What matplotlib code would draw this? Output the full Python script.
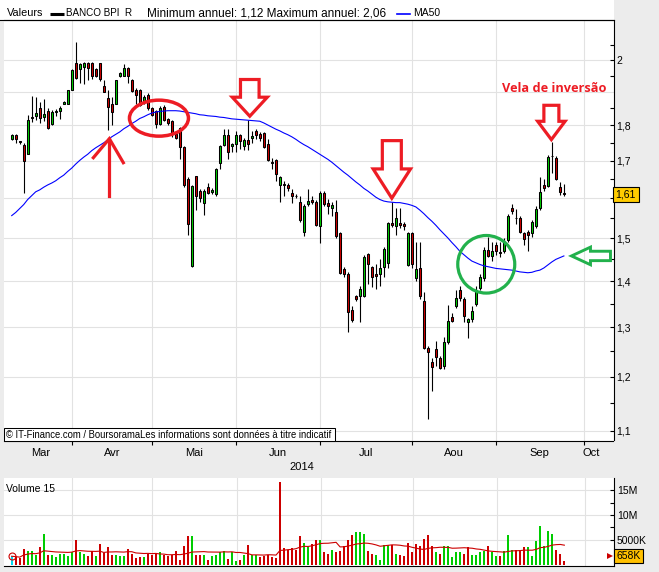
import numpy as np
import pandas as pd
import matplotlib
matplotlib.use("Agg")
import matplotlib.pyplot as plt
import matplotlib.ticker as mticker
import matplotlib.transforms as mtransforms
from matplotlib.patches import Polygon, Ellipse, Rectangle
from matplotlib.lines import Line2D

# ---------------------------------------------------------------------------
# BANCO BPI daily quotes, 11 Mar 2014 - 24 Sep 2014 (one value per session)
# ---------------------------------------------------------------------------
opens = [
    1.760, 1.773, 1.754, 1.743, 1.720, 1.825, 1.826, 1.851, 1.825, 1.843,
    1.804, 1.840, 1.843, 1.864, 1.864, 1.906, 1.991, 1.971, 1.977, 1.991,
    1.990, 1.971, 1.989, 1.918, 1.880, 1.864, 1.864, 1.949, 1.950, 1.973,
    1.937, 1.905, 1.906, 1.868, 1.891, 1.851, 1.841, 1.804, 1.854, 1.819,
    1.812, 1.774, 1.793, 1.739, 1.651, 1.435, 1.658, 1.620, 1.589, 1.629,
    1.617, 1.610, 1.693, 1.744, 1.772, 1.742, 1.746, 1.771, 1.740, 1.758,
    1.764, 1.784, 1.774, 1.777, 1.748, 1.697, 1.701, 1.635, 1.638, 1.636,
    1.614, 1.607, 1.591, 1.516, 1.586, 1.596, 1.590, 1.529, 1.614, 1.588,
    1.574, 1.565, 1.512, 1.428, 1.416, 1.336, 1.366, 1.366, 1.367, 1.463,
    1.432, 1.416, 1.417, 1.432, 1.442, 1.538, 1.530, 1.538, 1.535, 1.436,
    1.512, 1.408, 1.430, 1.356, 1.257, 1.228, 1.255, 1.237, 1.220, 1.268,
    1.322, 1.344, 1.381, 1.361, 1.311, 1.316, 1.349, 1.385, 1.406, 1.473,
    1.459, 1.484, 1.467, 1.469, 1.495, 1.574, 1.551, 1.551, 1.512, 1.516,
    1.512, 1.529, 1.574, 1.634, 1.632, 1.712, 1.708, 1.630, 1.614,
]
highs = [
    1.776, 1.776, 1.756, 1.750, 1.831, 1.887, 1.885, 1.868, 1.878, 1.850,
    1.845, 1.848, 1.856, 1.872, 1.906, 1.970, 2.060, 1.990, 1.995, 1.995,
    1.995, 1.975, 1.992, 1.937, 1.905, 1.885, 1.938, 1.963, 1.986, 1.978,
    1.940, 1.913, 1.910, 1.890, 1.895, 1.855, 1.845, 1.857, 1.860, 1.822,
    1.815, 1.780, 1.795, 1.742, 1.655, 1.635, 1.660, 1.625, 1.625, 1.640,
    1.626, 1.680, 1.745, 1.788, 1.788, 1.750, 1.785, 1.775, 1.765, 1.815,
    1.784, 1.790, 1.780, 1.782, 1.762, 1.708, 1.705, 1.660, 1.646, 1.640,
    1.625, 1.612, 1.607, 1.585, 1.625, 1.605, 1.595, 1.620, 1.620, 1.599,
    1.590, 1.596, 1.515, 1.432, 1.420, 1.345, 1.370, 1.390, 1.460, 1.465,
    1.435, 1.440, 1.450, 1.480, 1.540, 1.590, 1.574, 1.574, 1.540, 1.515,
    1.515, 1.490, 1.490, 1.375, 1.260, 1.236, 1.272, 1.240, 1.280, 1.348,
    1.330, 1.380, 1.390, 1.365, 1.320, 1.345, 1.390, 1.415, 1.480, 1.504,
    1.490, 1.490, 1.490, 1.500, 1.560, 1.586, 1.572, 1.556, 1.515, 1.520,
    1.545, 1.580, 1.655, 1.651, 1.715, 1.752, 1.712, 1.642, 1.638,
]
lows = [
    1.757, 1.750, 1.746, 1.615, 1.718, 1.810, 1.815, 1.807, 1.812, 1.790,
    1.800, 1.826, 1.818, 1.862, 1.862, 1.905, 1.940, 1.927, 1.924, 1.937,
    1.940, 1.945, 1.932, 1.900, 1.786, 1.802, 1.862, 1.945, 1.948, 1.927,
    1.900, 1.864, 1.858, 1.862, 1.845, 1.828, 1.793, 1.800, 1.812, 1.800,
    1.767, 1.760, 1.706, 1.630, 1.508, 1.433, 1.570, 1.590, 1.558, 1.610,
    1.612, 1.605, 1.677, 1.740, 1.704, 1.723, 1.723, 1.732, 1.730, 1.730,
    1.750, 1.760, 1.755, 1.735, 1.700, 1.677, 1.645, 1.590, 1.605, 1.620,
    1.589, 1.600, 1.540, 1.506, 1.580, 1.585, 1.530, 1.488, 1.580, 1.561,
    1.555, 1.500, 1.415, 1.410, 1.290, 1.310, 1.355, 1.310, 1.365, 1.393,
    1.387, 1.383, 1.390, 1.410, 1.430, 1.528, 1.508, 1.525, 1.520, 1.435,
    1.430, 1.400, 1.360, 1.255, 1.120, 1.173, 1.220, 1.215, 1.215, 1.265,
    1.310, 1.340, 1.355, 1.310, 1.278, 1.310, 1.345, 1.380, 1.400, 1.455,
    1.445, 1.460, 1.455, 1.465, 1.490, 1.561, 1.536, 1.513, 1.484, 1.470,
    1.504, 1.525, 1.570, 1.620, 1.630, 1.668, 1.648, 1.608, 1.607,
]
closes = [
    1.773, 1.762, 1.751, 1.698, 1.817, 1.820, 1.836, 1.822, 1.834, 1.793,
    1.838, 1.843, 1.852, 1.868, 1.905, 1.968, 1.942, 1.986, 1.990, 1.975,
    1.950, 1.950, 1.939, 1.901, 1.854, 1.839, 1.938, 1.960, 1.973, 1.950,
    1.902, 1.889, 1.861, 1.885, 1.851, 1.831, 1.804, 1.851, 1.817, 1.807,
    1.776, 1.764, 1.739, 1.634, 1.535, 1.632, 1.606, 1.601, 1.620, 1.615,
    1.622, 1.677, 1.742, 1.772, 1.723, 1.746, 1.771, 1.754, 1.758, 1.748,
    1.770, 1.771, 1.764, 1.739, 1.703, 1.695, 1.664, 1.655, 1.634, 1.627,
    1.606, 1.605, 1.544, 1.580, 1.593, 1.590, 1.533, 1.614, 1.586, 1.580,
    1.584, 1.506, 1.418, 1.416, 1.332, 1.315, 1.361, 1.383, 1.455, 1.440,
    1.410, 1.411, 1.429, 1.474, 1.537, 1.532, 1.549, 1.532, 1.530, 1.512,
    1.440, 1.428, 1.367, 1.257, 1.248, 1.219, 1.239, 1.217, 1.268, 1.313,
    1.313, 1.363, 1.363, 1.323, 1.318, 1.334, 1.380, 1.409, 1.473, 1.459,
    1.469, 1.469, 1.466, 1.492, 1.556, 1.568, 1.549, 1.516, 1.498, 1.508,
    1.539, 1.573, 1.616, 1.628, 1.711, 1.714, 1.651, 1.617, 1.610,
]
# 50-session moving average of the close
ma50 = [
    1.556, 1.564, 1.574, 1.584, 1.597, 1.607, 1.617, 1.622, 1.629, 1.635,
    1.640, 1.646, 1.654, 1.661, 1.671, 1.680, 1.691, 1.701, 1.710, 1.718,
    1.728, 1.736, 1.743, 1.750, 1.758, 1.767, 1.774, 1.781, 1.790, 1.797,
    1.805, 1.812, 1.820, 1.825, 1.831, 1.836, 1.839, 1.841, 1.842, 1.843,
    1.843, 1.843, 1.842, 1.840, 1.838, 1.836, 1.834, 1.831, 1.830, 1.828,
    1.827, 1.826, 1.824, 1.823, 1.821, 1.819, 1.818, 1.817, 1.816, 1.815,
    1.814, 1.813, 1.812, 1.807, 1.801, 1.795, 1.789, 1.784, 1.778, 1.773,
    1.767, 1.760, 1.752, 1.745, 1.739, 1.732, 1.725, 1.718, 1.711, 1.704,
    1.696, 1.687, 1.678, 1.669, 1.661, 1.652, 1.643, 1.635, 1.626, 1.619,
    1.611, 1.603, 1.597, 1.593, 1.591, 1.590, 1.589, 1.589, 1.587, 1.585,
    1.582, 1.578, 1.570, 1.561, 1.551, 1.542, 1.532, 1.521, 1.511, 1.501,
    1.490, 1.480, 1.469, 1.461, 1.453, 1.446, 1.442, 1.438, 1.435, 1.433,
    1.431, 1.429, 1.428, 1.427, 1.426, 1.425, 1.423, 1.421, 1.420, 1.419,
    1.420, 1.423, 1.425, 1.430, 1.437, 1.444, 1.450, 1.454, 1.458,
]
# traded volume, millions of shares
volumes = [
    1.67, 1.47, 1.33, 3.20, 2.80, 2.80, 2.00, 3.47, 6.20, 2.00,
    2.00, 1.47, 2.20, 2.20, 1.80, 2.47, 5.00, 2.47, 2.20, 1.80,
    2.67, 1.67, 4.20, 2.33, 3.47, 2.00, 2.00, 1.67, 1.80, 3.20,
    2.20, 1.33, 1.47, 1.47, 2.20, 2.00, 2.20, 2.53, 1.87, 1.67,
    2.00, 2.80, 1.00, 3.67, 5.67, 5.80, 1.87, 1.87, 1.87, 1.00,
    1.80, 2.00, 2.53, 2.80, 1.20, 2.53, 0.80, 1.00, 1.87, 4.00,
    2.00, 1.87, 1.47, 1.67, 2.00, 1.47, 1.33, 16.70, 3.33, 2.87,
    3.33, 3.00, 5.67, 4.33, 3.47, 4.13, 5.00, 5.00, 2.53, 2.20,
    3.00, 2.53, 2.80, 3.80, 5.00, 6.00, 6.60, 6.60, 6.13, 2.80,
    2.20, 2.00, 1.00, 4.00, 4.00, 4.00, 2.20, 1.87, 1.67, 4.33,
    2.53, 4.20, 3.67, 5.20, 6.00, 3.80, 2.53, 2.20, 3.80, 3.80,
    1.47, 2.47, 2.53, 2.20, 3.47, 1.87, 2.00, 2.53, 2.67, 3.80,
    2.47, 1.67, 1.67, 2.80, 6.00, 3.00, 3.00, 3.00, 3.47, 3.47,
    1.67, 4.67, 7.67, 3.67, 6.80, 6.20, 3.00, 2.20, 0.658,
]
month_names = ['Mar', 'Avr', 'Mai', 'Jun', 'Jul', 'Aou', 'Sep', 'Oct']
ticker_name = 'BANCO BPI  R'
volume_window = 15

# ---------------------------------------------------------------------------
# colours / fonts
# ---------------------------------------------------------------------------
BG = '#ececec'
GRID = '#e2e2e2'
UP = '#00cc00'
DOWN = '#cc0000'
INK_RED = '#ed1c24'
INK_GREEN = '#22b14c'
SANS = ['Liberation Sans', 'DejaVu Sans']
NARROW = ['Liberation Sans Narrow', 'Liberation Sans', 'DejaVu Sans']
plt.rcParams['font.family'] = SANS

W, H, DPI = 659, 572, 100
fig = plt.figure(figsize=(W / DPI, H / DPI), dpi=DPI, facecolor=BG)


def fbox(x0, y0, x1, y1):
    """pixel box (top-left origin) -> figure fraction rect"""
    return [x0 / W, 1 - y1 / H, (x1 - x0) / W, (y1 - y0) / H]


def fpt(x, y):
    return x / W, 1 - y / H


n = len(closes)
x = np.arange(n)
o, h, l, c = (np.asarray(a, float) for a in (opens, highs, lows, closes))
vol = np.asarray(volumes, float)

# trading calendar (Euronext Lisbon) -> month boundaries in session units
cal = pd.bdate_range('2014-03-11', '2014-10-31', freq='C',
                     holidays=['2014-04-18', '2014-04-21', '2014-05-01'])
months = cal.to_period('M')
month_starts = [k for k in range(1, len(cal)) if months[k] != months[k - 1]]

XMIN, XMAX = -1.925, 150.4
bounds = [-0.4] + month_starts + [146.6]
label_pos = [(a + b) / 2 for a, b in zip(bounds[:-1], bounds[1:])]

# ---------------------------------------------------------------------------
# header strip
# ---------------------------------------------------------------------------
fig.add_artist(Rectangle(fpt(0, 20), 613.5 / W, 20 / H, transform=fig.transFigure,
                         fc='white', ec='none', zorder=0))
fig.add_artist(Line2D([0, 613.5 / W], [1 - 20 / H] * 2, color='black', lw=0.8))
fig.text(*fpt(7, 13.5), 'Valeurs', fontsize=7.8, va='center', ha='left')
fig.add_artist(Line2D([50 / W, 63.5 / W], [1 - 14 / H] * 2, color='black', lw=2.2,
                      solid_capstyle='butt'))
fig.text(*fpt(66, 13.5), ticker_name, fontsize=7.1, va='center', ha='left')
lo_txt = f"{min(lows):.2f}".replace('.', ',')
hi_txt = f"{max(highs):.2f}".replace('.', ',')
fig.text(*fpt(147, 13.5), f"Minimum annuel: {lo_txt} Maximum annuel: {hi_txt}",
         fontsize=8.5, va='center', ha='left')
fig.add_artist(Line2D([397 / W, 410 / W], [1 - 14 / H] * 2, color='#0000ff', lw=1.2))
fig.text(*fpt(413, 13.5), 'MA50', fontsize=7.5, va='center', ha='left')

# ---------------------------------------------------------------------------
# price panel
# ---------------------------------------------------------------------------
ax = fig.add_axes(fbox(4, 20, 613.5, 440.5))
ax.set_facecolor('white')
ax.set_yscale('log')
ax.set_ylim(1.0825, 2.1335)
ax.set_xlim(XMIN, XMAX)

for lvl in np.arange(1.1, 2.05, 0.1):
    ax.axhline(lvl, color=GRID, lw=0.8, zorder=0)
for ms in month_starts:
    ax.axvline(ms + 0.15, color=GRID, lw=0.8, zorder=0)

body_lo = np.minimum(o, c)
body_hi = np.maximum(o, c)
ax.vlines(x, l, h, color='black', lw=0.8, zorder=3)
ax.bar(x, body_hi - body_lo, bottom=body_lo, width=0.6,
       color=np.where(c >= o, UP, DOWN), edgecolor='black', linewidth=0.75, zorder=4)
ax.plot(x, ma50, color='#0000ff', lw=0.8, zorder=5)

major_lv = [1.1, 1.2, 1.3, 1.4, 1.5, 1.6, 1.7, 1.8, 2.0]
minor_lv = [1.15, 1.25, 1.35, 1.45, 1.55, 1.65, 1.75, 1.85, 1.95, 2.05]
last_tag = f"{c[-1]:.2f}".replace('.', ',')


def price_fmt(v, pos):
    # the level sitting under the last-close tag is left unlabelled
    if abs(np.log(v / c[-1])) < 0.02:
        return ''
    return f"{v:g}".replace('.', ',')


ax.yaxis.tick_right()
ax.yaxis.set_major_locator(mticker.FixedLocator(major_lv))
ax.yaxis.set_major_formatter(mticker.FuncFormatter(price_fmt))
ax.yaxis.set_minor_locator(mticker.FixedLocator(minor_lv))
ax.yaxis.set_minor_formatter(mticker.NullFormatter())
ax.tick_params(axis='y', which='both', direction='in', length=3, width=0.8,
               pad=2.2, labelsize=7.5, right=True, left=False)

ax.xaxis.set_major_locator(mticker.FixedLocator(month_starts))
ax.xaxis.set_major_formatter(mticker.NullFormatter())
ax.xaxis.set_minor_locator(mticker.FixedLocator(label_pos))
ax.xaxis.set_minor_formatter(mticker.FixedFormatter(month_names))
ax.tick_params(axis='x', which='major', direction='out', length=3, width=0.8)
ax.tick_params(axis='x', which='minor', length=0, pad=5.5, labelsize=8)
for lab in ax.xaxis.get_minorticklabels():
    lab.set_fontfamily(NARROW)

for side in ('top', 'right', 'bottom'):
    ax.spines[side].set_color('black')
    ax.spines[side].set_linewidth(0.8)
ax.spines['left'].set_visible(False)

# last close tag
ax.text(1.0035, c[-1], last_tag, transform=ax.get_yaxis_transform(),
        ha='left', va='center', fontsize=7.5, zorder=10, clip_on=False,
        bbox=dict(boxstyle='square,pad=0.25', fc='#ffcc00', ec='black', lw=0.8))

# source note
fig.add_artist(Rectangle(fpt(4, 440.5), 331 / W, 12.5 / H, transform=fig.transFigure,
                         fc='white', ec='black', lw=0.75, zorder=5))
fig.text(*fpt(5.5, 434.5), '\u00a9 IT-Finance.com / BoursoramaLes informations sont données à titre indicatif',
         fontsize=6.85, family=NARROW, va='center', ha='left', zorder=6)

fig.text(*fpt(302, 467.5), '2014', fontsize=8, family=NARROW, ha='center', va='center')

# ---------------------------------------------------------------------------
# volume panel
# ---------------------------------------------------------------------------
axv = fig.add_axes(fbox(4, 477.7, 614, 565.7))
axv.set_facecolor('white')
axv.set_xlim(XMIN, XMAX)
axv.set_ylim(-0.24, 17.5)
for lvl in (5, 10, 15):
    axv.axhline(lvl, color=GRID, lw=0.8, zorder=0)
for ms in month_starts:
    axv.axvline(ms + 0.15, color=GRID, lw=0.8, zorder=0)

prev = np.r_[np.nan, c[:-1]]
vcol = np.where(c >= prev, UP, DOWN).astype(object)
vcol[0] = '#00d8f0'
axv.bar(x, vol, width=0.55, color=list(vcol), linewidth=0, zorder=3)
vol_ma = pd.Series(vol).rolling(volume_window, min_periods=1).mean().to_numpy()
axv.plot(x, vol_ma, color=DOWN, lw=0.8, zorder=4)
axv.plot(x[0], vol_ma[0], 'o', mfc='none', mec=DOWN, ms=5, mew=0.8, zorder=5)

axv.yaxis.tick_right()
axv.yaxis.set_major_locator(mticker.FixedLocator([5, 10, 15]))
axv.yaxis.set_major_formatter(mticker.FixedFormatter(['5000K', '10M', '15M']))
axv.yaxis.set_minor_locator(mticker.FixedLocator([7.5, 12.5]))
axv.tick_params(axis='y', which='both', direction='in', length=3, width=0.8,
                pad=2.2, labelsize=7.5, right=True, left=False)
axv.tick_params(axis='x', which='both', bottom=False, labelbottom=False)
for side in ('right', 'bottom'):
    axv.spines[side].set_color('black')
    axv.spines[side].set_linewidth(0.8)
axv.spines['top'].set_visible(False)
axv.spines['left'].set_visible(False)
axv.text(0.003, 0.87, f'Volume {volume_window}', transform=axv.transAxes, fontsize=7.5,
         ha='left', va='center')

last_vol = f"{int(round(vol[-1] * 1000))}K"
axv.text(1.004, vol[-1], last_vol, transform=axv.get_yaxis_transform(), ha='left',
         va='bottom', fontsize=7.5, zorder=10, clip_on=False,
         bbox=dict(boxstyle='square,pad=0.2', fc='#ffc000', ec='black', lw=0.8))
axv.plot([0.9935], [vol[-1] + 1.0], marker='>', color=DOWN, ms=5, mew=0,
         transform=axv.get_yaxis_transform(), clip_on=False, zorder=10)

# ---------------------------------------------------------------------------
# hand-drawn style markup (sizes in pixels, anchored on the price data)
# ---------------------------------------------------------------------------
to_disp = ax.transData.transform
ident = mtransforms.IdentityTransform()
LW = 2.3


def down_arrow(i, price, gap, head_len, head_hw, shaft_len, shaft_hw, dx=0.0):
    tx, ty = to_disp((i, price))
    tx += dx
    ty += gap
    pts = [(tx, ty), (tx - head_hw, ty + head_len), (tx - shaft_hw, ty + head_len),
           (tx - shaft_hw, ty + head_len + shaft_len), (tx + shaft_hw, ty + head_len + shaft_len),
           (tx + shaft_hw, ty + head_len), (tx + head_hw, ty + head_len)]
    fig.add_artist(Polygon(pts, closed=True, fill=False, ec=INK_RED, lw=LW,
                           joinstyle='miter', transform=ident, zorder=20))
    return tx, ty


down_arrow(59, highs[59], 4, 19, 17.5, 17.7, 9.3, dx=2)
down_arrow(95, highs[95], 4, 29.3, 18.7, 28.3, 9.5)
down_arrow(135, highs[135], 2.5, 18.3, 13.7, 16, 7.5, dx=-0.5)

# arrow pointing up at the moving average
tx, ty = to_disp((24.4, np.interp(24.4, x, ma50)))
fig.add_artist(Line2D([tx, tx], [ty - 57, ty], color=INK_RED, lw=LW, transform=ident, zorder=20))
fig.add_artist(Line2D([tx - 16, tx, tx + 14], [ty - 19, ty, ty - 24], color=INK_RED, lw=LW,
                      transform=ident, zorder=20, solid_joinstyle='miter'))

# rings
cx, cy = to_disp((36.8, 1.821))
fig.add_artist(Ellipse((cx, cy), 59, 36, fill=False, ec=INK_RED, lw=LW + 0.2,
                       transform=ident, zorder=20))
cx, cy = to_disp((118.6, 1.4385))
fig.add_artist(Ellipse((cx, cy), 57, 57.6, fill=False, ec=INK_GREEN, lw=LW,
                       transform=ident, zorder=20))

# outlined arrow pointing left at the end of the moving average
tx, ty = to_disp((n - 1, ma50[-1]))
tx += 7.6
pts = [(tx, ty), (tx + 19, ty + 8.8), (tx + 19, ty + 4.7), (tx + 39, ty + 4.7),
       (tx + 39, ty - 4.7), (tx + 19, ty - 4.7), (tx + 19, ty - 8.8)]
fig.add_artist(Polygon(pts, closed=True, fill=False, ec=INK_GREEN, lw=LW - 0.2,
                       joinstyle='miter', transform=ident, zorder=20))

ax.annotate('Vela de inversão', xy=(135, highs[135]), xytext=(2.8, 53.7),
            textcoords='offset pixels', ha='center', va='center', color=INK_RED,
            fontsize=9.2, fontweight='bold', family=['Open Sans', 'DejaVu Sans'], zorder=20)

fig.savefig('out.png', dpi=DPI, facecolor=fig.get_facecolor())
